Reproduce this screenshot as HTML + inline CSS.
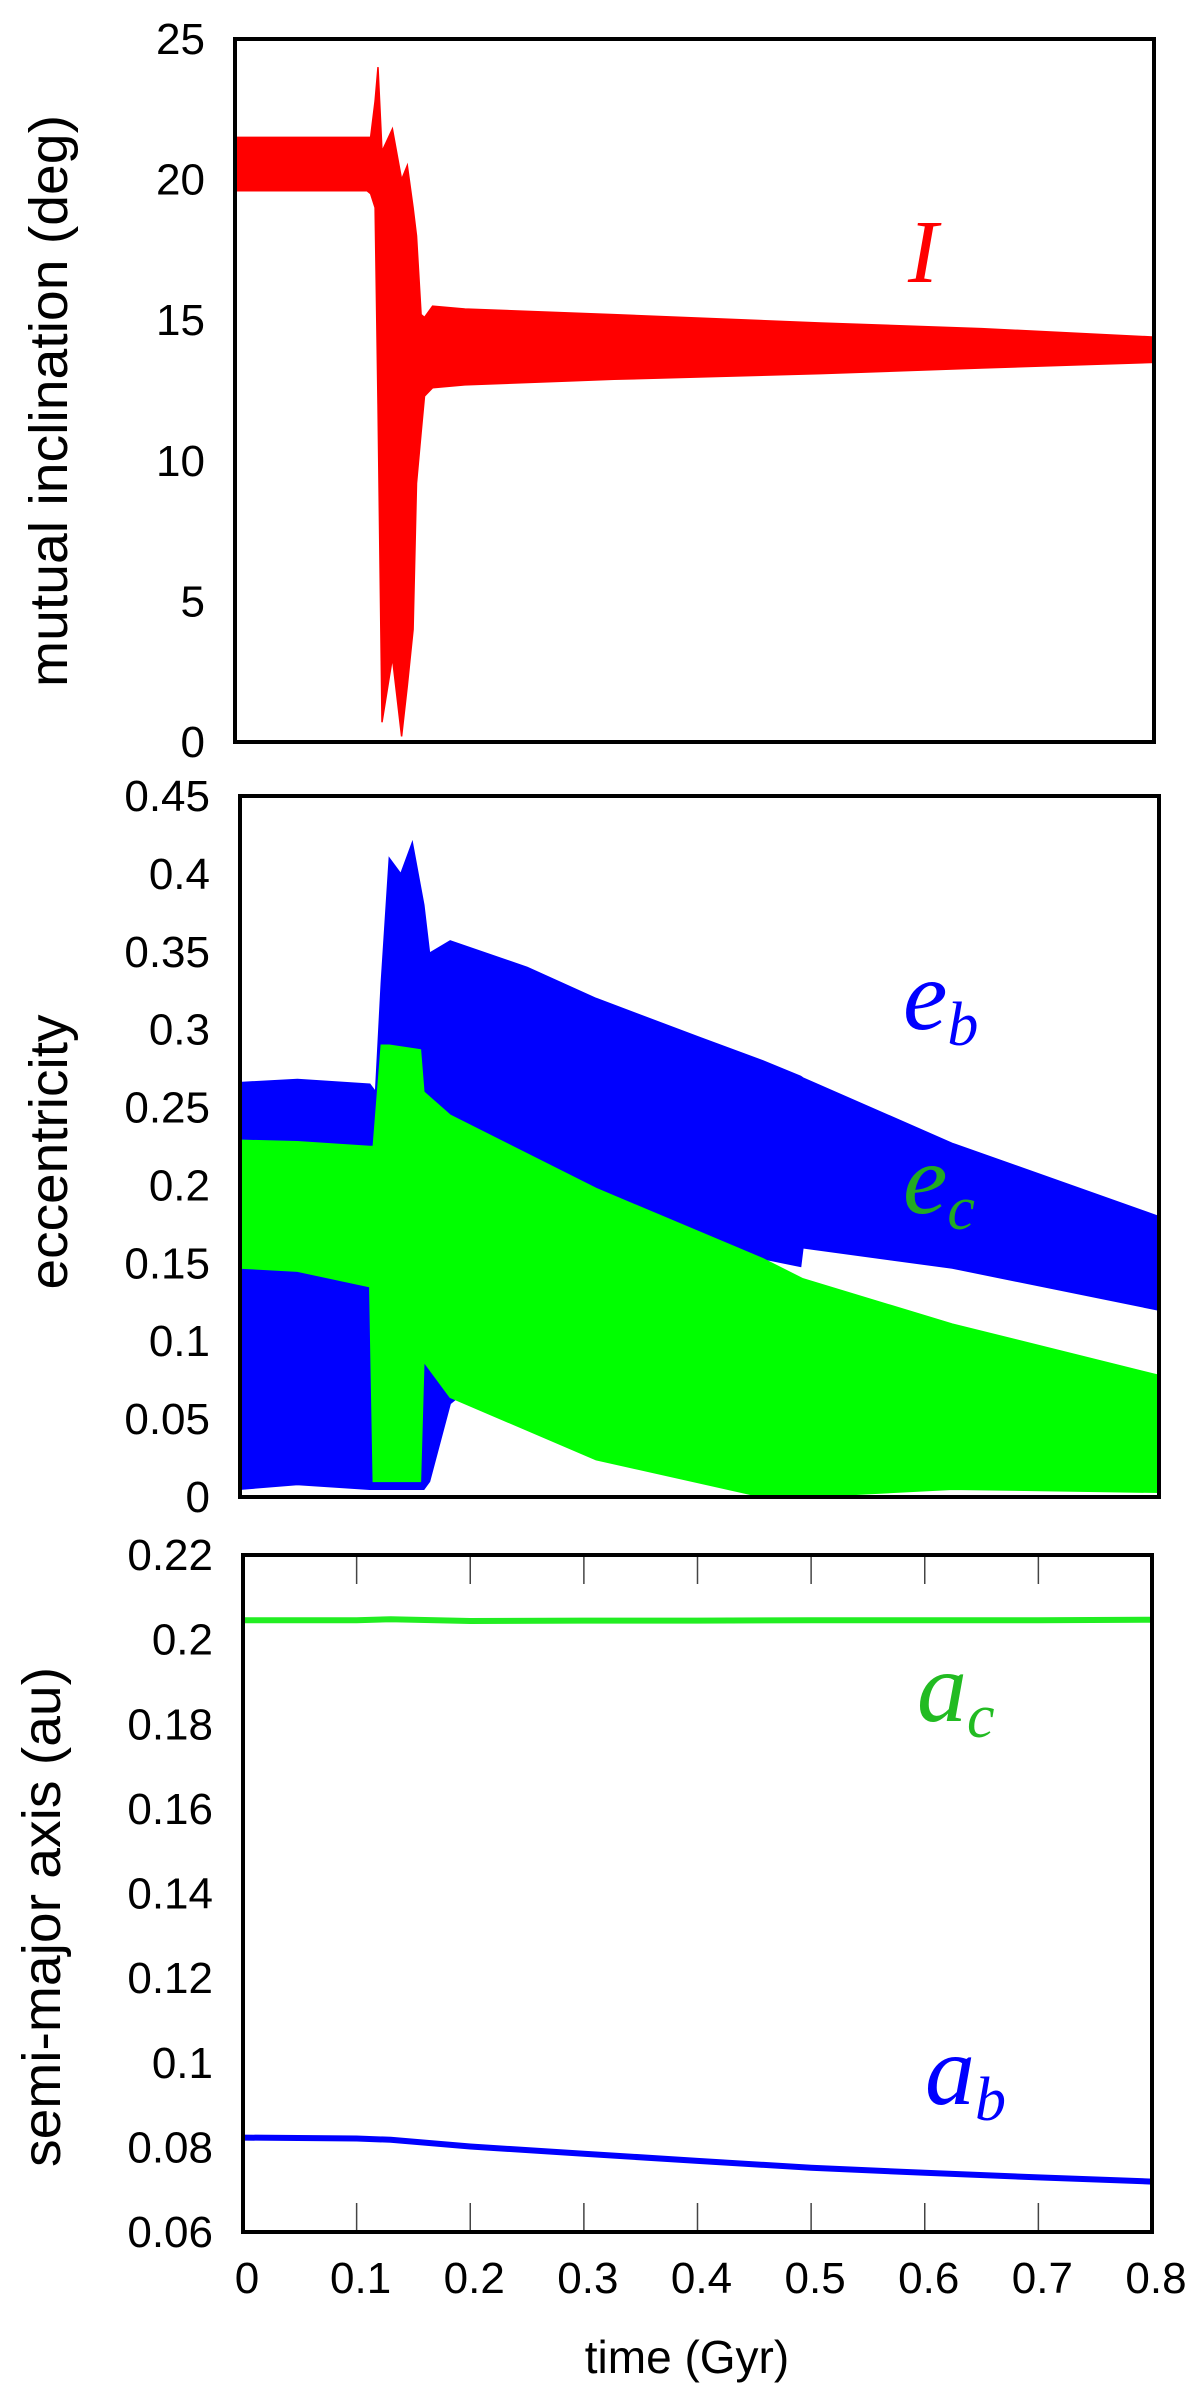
<!DOCTYPE html>
<html><head><meta charset="utf-8">
<style>
html,body{margin:0;padding:0;background:#fff;}
svg{display:block;}
text{font-family:"Liberation Sans",Arial,sans-serif;fill:#000;}
.lab{font-family:"Liberation Serif",serif;font-style:italic;}
</style></head>
<body>
<svg id="fig" width="1200" height="2402" viewBox="0 0 1200 2402" xmlns="http://www.w3.org/2000/svg"></svg>
<script>
// ---- data ----
const incT     = [0,0.05,0.115,0.118,0.122,0.1245,0.128,0.137,0.145,0.15,0.155,0.158,0.162,0.165,0.172,0.2,0.33,0.51,0.65,0.8];
const incUpper = [21.5,21.5,21.5,21.5,22.8,24,21,21.8,20,20.5,19,18,15.2,15.1,15.5,15.4,15.2,14.9,14.7,14.4];
const incLower = [19.6,19.6,19.6,19.5,19,12,0.7,3,0.2,2,4,9.2,11,12.3,12.6,12.7,12.9,13.1,13.3,13.5];

const ebT     = [0,0.05,0.113,0.118,0.123,0.13,0.14,0.15,0.16,0.165,0.183,0.25,0.31,0.4,0.455,0.488,0.49,0.62,0.8];
const ebUpper = [0.266,0.268,0.265,0.26,0.33,0.41,0.40,0.42,0.38,0.349,0.357,0.34,0.32,0.295,0.28,0.27,0.269,0.227,0.18];
const ebLower = [0.005,0.008,0.005,0.005,0.005,0.005,0.005,0.005,0.005,0.01,0.06,0.1,0.13,0.15,0.153,0.148,0.16,0.147,0.12];

const ecT     = [0,0.05,0.113,0.116,0.123,0.13,0.157,0.16,0.183,0.31,0.455,0.49,0.62,0.8];
const ecUpper = [0.229,0.228,0.225,0.225,0.29,0.29,0.287,0.26,0.245,0.198,0.153,0.14,0.111,0.078];
const ecLower = [0.147,0.145,0.135,0.01,0.01,0.01,0.01,0.087,0.064,0.024,0.0,0.0,0.005,0.003];

const aT  = [0,0.1,0.13,0.2,0.3,0.4,0.5,0.6,0.7,0.8];
const acV = [0.2046,0.2046,0.2048,0.2044,0.2045,0.2045,0.2046,0.2046,0.2046,0.2047];
const abV = [0.0823,0.0821,0.0818,0.0802,0.0785,0.0768,0.0752,0.0740,0.0729,0.0719];

const incTicks = [0,5,10,15,20,25];
const eccTicks = [0,0.05,0.1,0.15,0.2,0.25,0.3,0.35,0.4,0.45];
const eccTickLabels = ["0","0.05","0.1","0.15","0.2","0.25","0.3","0.35","0.4","0.45"];
const smaTicks = [0.06,0.08,0.1,0.12,0.14,0.16,0.18,0.2,0.22];
const smaTickLabels = ["0.06","0.08","0.1","0.12","0.14","0.16","0.18","0.2","0.22"];
const timeTicks = [0,0.1,0.2,0.3,0.4,0.5,0.6,0.7,0.8];
const timeTickLabels = ["0","0.1","0.2","0.3","0.4","0.5","0.6","0.7","0.8"];

const NS="http://www.w3.org/2000/svg";
const svg=document.getElementById('fig');
function mk(tag,attrs,parent){const e=document.createElementNS(NS,tag);for(const k in attrs)e.setAttribute(k,attrs[k]);(parent||svg).appendChild(e);return e;}
function axis(x0,x1,y0,y1,vmin,vmax){return {x:t=>x0+(t-0)/(0.8)*(x1-x0),y:v=>y1-(v-vmin)/(vmax-vmin)*(y1-y0),x0,x1,y0,y1};}
function band(ax,T,U,L,color,name){
  let d='';
  for(let i=0;i<T.length;i++)d+=(i?'L':'M')+ax.x(T[i]).toFixed(1)+','+ax.y(U[i]).toFixed(1);
  for(let i=T.length-1;i>=0;i--)d+='L'+ax.x(T[i]).toFixed(1)+','+ax.y(L[i]).toFixed(1);
  const p=mk('path',{d:d+'Z',fill:color,stroke:color,'stroke-width':1.5});
  
  
}
function line(ax,T,V,color,w,name){
  let d='';
  for(let i=0;i<T.length;i++)d+=(i?'L':'M')+ax.x(T[i]).toFixed(1)+','+ax.y(V[i]).toFixed(1);
  const p=mk('path',{d:d,fill:'none',stroke:color,'stroke-width':w});
  
  
}
function frame(ax,name){
  const r=mk('rect',{x:ax.x0,y:ax.y0,width:ax.x1-ax.x0,height:ax.y1-ax.y0,fill:'none',stroke:'#000','stroke-width':4});
  
  
}
function yLabels(ax,ticks,labels,xr,vmin,vmax,name){
  ticks.forEach((v,i)=>{
    const t=mk('text',{x:xr,y:ax.y(v)+15,'text-anchor':'end','font-size':44});
    t.textContent=labels?labels[i]:String(v);
    
    
  });
}
function yTitle(txt,cx,cy,len,name){
  const t=mk('text',{x:0,y:0,'text-anchor':'middle','font-size':54,textLength:len,lengthAdjust:'spacingAndGlyphs',transform:`translate(${cx},${cy}) rotate(-90)`});
  t.textContent=txt;
  
  
}
function label(x,y,main,sub,color,size,name){
  const t=mk('text',{x:x,y:y,'font-size':size,class:'lab',fill:color});
  t.style.fill=color;
  const a=mk('tspan',{},t);a.textContent=main;
  if(sub){const b=mk('tspan',{dy:size*0.16,'font-size':size*0.62},t);b.textContent=sub;}
  
  
}

// ---- panel 1 ----
const ax1=axis(235,1154,39,742,0,25);
band(ax1,incT,incUpper,incLower,'#ff0000','inclination-series');
frame(ax1,'inclination-plot-frame');
yLabels(ax1,incTicks,null,205,0,25,'inclination-y-tick-label');
yTitle('mutual inclination (deg)',67,401,572,'inclination-y-axis-title');
label(908,282,'I',null,'#ff0000',90,'inclination-label');

// ---- panel 2 ----
const ax2=axis(240,1159,796,1497,0,0.45);
band(ax2,ebT,ebUpper,ebLower,'#0000ff','eb-series');
band(ax2,ecT,ecUpper,ecLower,'#00ff00','ec-series');
frame(ax2,'eccentricity-plot-frame');
yLabels(ax2,eccTicks,eccTickLabels,210,0,0.45,'eccentricity-y-tick-label');
yTitle('eccentricity',67,1152,275,'eccentricity-y-axis-title');
label(903,1029,'e','b','#0000ff',100,'eb-label');
label(903,1213,'e','c','#22aa22',100,'ec-label');

// ---- panel 3 ----
const ax3=axis(243,1152,1555,2232,0.06,0.22);
timeTicks.forEach(t=>{
  if(t<=0||t>=0.8)return;
  const a=mk('line',{x1:ax3.x(t),x2:ax3.x(t),y1:ax3.y0,y2:ax3.y0+29,stroke:'#444','stroke-width':1.5});
  
  
  const b=mk('line',{x1:ax3.x(t),x2:ax3.x(t),y1:ax3.y1,y2:ax3.y1-29,stroke:'#444','stroke-width':1.5});
  
  
});
line(ax3,aT,acV,'#22ee22',6,'ac-series');
line(ax3,aT,abV,'#0000ff',6,'ab-series');
frame(ax3,'sma-plot-frame');
yLabels(ax3,smaTicks,smaTickLabels,213,0.06,0.22,'sma-y-tick-label');
timeTicks.forEach((t,i)=>{
  const e=mk('text',{x:ax3.x(t)+4,y:2293,'text-anchor':'middle','font-size':44});
  e.textContent=timeTickLabels[i];
  
  
});
const xt=mk('text',{x:687,y:2373,'text-anchor':'middle','font-size':46});
xt.textContent='time (Gyr)';


yTitle('semi-major axis (au)',60,1917,500,'sma-y-axis-title');
label(917,1721,'a','c','#22bb22',100,'ac-label');
label(925,2104,'a','b','#0000ff',100,'ab-label');
</script>
</body></html>
